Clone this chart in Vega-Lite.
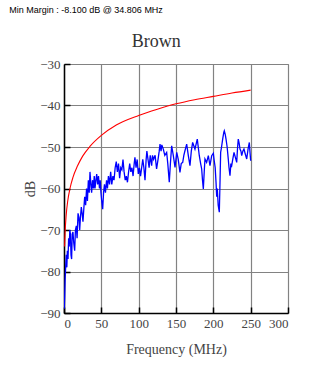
{
  "$schema": "https://vega.github.io/schema/vega-lite/v6.json",
  "background": "white",
  "padding": {"left": 9, "top": 5, "right": 5, "bottom": 5},
  "title": {"text": "Min Margin : -8.100 dB @ 34.806 MHz", "anchor": "start", "frame": "bounds", "font": "Liberation Sans", "fontSize": 9, "fontWeight": "normal", "color": "#000", "offset": 18, "dx": -14},
  "datasets": {
    "limit": [
      {"f": 0.8, "db": -74}, {"f": 1.5, "db": -70.5}, {"f": 3, "db": -66.3}, {"f": 5, "db": -63}, {"f": 8, "db": -60},
      {"f": 12, "db": -57.3}, {"f": 18, "db": -54.6}, {"f": 25, "db": -52.2}, {"f": 35, "db": -49.8}, {"f": 50, "db": -47.2},
      {"f": 70, "db": -44.7}, {"f": 100, "db": -42.4}, {"f": 125, "db": -40.9}, {"f": 150, "db": -39.6}, {"f": 175, "db": -38.6},
      {"f": 200, "db": -37.8}, {"f": 225, "db": -37}, {"f": 250, "db": -36.3}
    ],
    "meas": [
      {"f": 0.3, "db": -89}, {"f": 0.9, "db": -86}, {"f": 1.5, "db": -82}, {"f": 2.2, "db": -79}, {"f": 3.0, "db": -76},
      {"f": 3.8, "db": -79}, {"f": 4.5, "db": -75}, {"f": 5.4, "db": -77}, {"f": 6.2, "db": -72}, {"f": 7.0, "db": -74},
      {"f": 7.8, "db": -70}, {"f": 8.6, "db": -71}, {"f": 9.4, "db": -76}, {"f": 10.2, "db": -77}, {"f": 11.0, "db": -71},
      {"f": 12.0, "db": -70.5}, {"f": 13.0, "db": -73}, {"f": 14.3, "db": -75}, {"f": 15.3, "db": -70}, {"f": 16.5, "db": -69},
      {"f": 17.5, "db": -72}, {"f": 18.8, "db": -66}, {"f": 20.0, "db": -67}, {"f": 21.0, "db": -70}, {"f": 22.0, "db": -67},
      {"f": 23.2, "db": -64.5}, {"f": 24.3, "db": -66}, {"f": 25.4, "db": -68}, {"f": 26.5, "db": -65}, {"f": 27.7, "db": -62},
      {"f": 29.0, "db": -64}, {"f": 30.2, "db": -60}, {"f": 31.4, "db": -63}, {"f": 32.6, "db": -58}, {"f": 33.8, "db": -61},
      {"f": 34.8, "db": -56}, {"f": 36.0, "db": -59}, {"f": 37.0, "db": -61}, {"f": 38.2, "db": -58}, {"f": 39.5, "db": -60},
      {"f": 40.5, "db": -57}, {"f": 41.5, "db": -60}, {"f": 42.7, "db": -58}, {"f": 43.8, "db": -56.5}, {"f": 45.0, "db": -59},
      {"f": 46.2, "db": -57}, {"f": 47.5, "db": -60}, {"f": 48.5, "db": -58}, {"f": 49.5, "db": -61}, {"f": 50.5, "db": -63},
      {"f": 51.8, "db": -65}, {"f": 53.0, "db": -61}, {"f": 54.2, "db": -59}, {"f": 55.5, "db": -61}, {"f": 57.0, "db": -58},
      {"f": 58.2, "db": -60}, {"f": 59.5, "db": -57}, {"f": 61.0, "db": -59}, {"f": 62.5, "db": -56}, {"f": 64.0, "db": -59},
      {"f": 65.5, "db": -57}, {"f": 67.0, "db": -58}, {"f": 68.5, "db": -55}, {"f": 70.0, "db": -53.5}, {"f": 71.5, "db": -56},
      {"f": 73.0, "db": -54}, {"f": 74.5, "db": -57.5}, {"f": 76.0, "db": -55}, {"f": 77.5, "db": -55.5}, {"f": 79.0, "db": -53},
      {"f": 80.5, "db": -56}, {"f": 82.0, "db": -58}, {"f": 83.5, "db": -57}, {"f": 85.0, "db": -58.5}, {"f": 86.5, "db": -56},
      {"f": 88.0, "db": -54}, {"f": 89.5, "db": -56}, {"f": 91.0, "db": -55}, {"f": 92.5, "db": -57}, {"f": 94.0, "db": -54},
      {"f": 95.0, "db": -52.5}, {"f": 96.5, "db": -55}, {"f": 98.0, "db": -53}, {"f": 99.5, "db": -56.5}, {"f": 101, "db": -55},
      {"f": 102.5, "db": -57}, {"f": 104, "db": -55}, {"f": 105.5, "db": -53}, {"f": 107, "db": -55}, {"f": 108.5, "db": -58},
      {"f": 110, "db": -53}, {"f": 111, "db": -51}, {"f": 112.5, "db": -53}, {"f": 114, "db": -55}, {"f": 115.5, "db": -52},
      {"f": 117.4, "db": -54.5}, {"f": 118.5, "db": -52}, {"f": 120, "db": -53}, {"f": 122, "db": -52}, {"f": 124, "db": -55.3},
      {"f": 126, "db": -52.9}, {"f": 127.5, "db": -51}, {"f": 128.6, "db": -49.3}, {"f": 130, "db": -51}, {"f": 131, "db": -49.5},
      {"f": 133, "db": -50.5}, {"f": 135, "db": -52}, {"f": 137.5, "db": -51.3}, {"f": 139, "db": -54}, {"f": 141, "db": -58.5},
      {"f": 142.5, "db": -54}, {"f": 144.2, "db": -49.7}, {"f": 146.4, "db": -52.1}, {"f": 148.7, "db": -54.9}, {"f": 151, "db": -51.3},
      {"f": 153, "db": -53}, {"f": 155.3, "db": -56.1}, {"f": 157, "db": -54}, {"f": 159, "db": -53.7}, {"f": 160.5, "db": -52},
      {"f": 162, "db": -50.9}, {"f": 164.3, "db": -49.3}, {"f": 166.5, "db": -52.1}, {"f": 168.7, "db": -54.5}, {"f": 170.5, "db": -51},
      {"f": 172.3, "db": -48.9}, {"f": 175.4, "db": -50.5}, {"f": 178.5, "db": -48.1}, {"f": 181.2, "db": -52.1}, {"f": 183, "db": -54},
      {"f": 184.4, "db": -55.3}, {"f": 185.5, "db": -58}, {"f": 186.6, "db": -60.1}, {"f": 187.8, "db": -56}, {"f": 188.8, "db": -52.9},
      {"f": 191, "db": -53.7}, {"f": 193.3, "db": -52.1}, {"f": 195.5, "db": -54.5}, {"f": 197.8, "db": -52.1}, {"f": 200, "db": -51.5},
      {"f": 200.9, "db": -52.9}, {"f": 202.5, "db": -55}, {"f": 203.6, "db": -58.5}, {"f": 204.5, "db": -62}, {"f": 205.3, "db": -60},
      {"f": 206.5, "db": -64}, {"f": 208, "db": -65.7}, {"f": 209, "db": -58}, {"f": 209.8, "db": -51.3}, {"f": 211, "db": -50},
      {"f": 212.5, "db": -48.1}, {"f": 214, "db": -46.5}, {"f": 214.7, "db": -46.1}, {"f": 216, "db": -47}, {"f": 217, "db": -48.1},
      {"f": 218.5, "db": -50}, {"f": 220, "db": -52.9}, {"f": 221, "db": -55}, {"f": 222.3, "db": -56.9}, {"f": 223.5, "db": -54},
      {"f": 224.6, "db": -54.5}, {"f": 226, "db": -53}, {"f": 227.7, "db": -51.3}, {"f": 229.5, "db": -52.5}, {"f": 231.3, "db": -53.7},
      {"f": 232.5, "db": -50}, {"f": 233.4, "db": -48.1}, {"f": 234.5, "db": -49}, {"f": 235.7, "db": -50.5}, {"f": 237, "db": -51},
      {"f": 238, "db": -52.1}, {"f": 239.5, "db": -51}, {"f": 241, "db": -50.5}, {"f": 242.5, "db": -51.5}, {"f": 244.7, "db": -52.9},
      {"f": 246.5, "db": -50.5}, {"f": 248.2, "db": -48.9}, {"f": 249, "db": -51}, {"f": 250, "db": -53.3}
    ]
  },
  "vconcat": [
    {
      "width": 224,
      "height": 249,
      "title": {"text": "Brown", "frame": "bounds", "font": "Liberation Serif", "fontSize": 18, "fontWeight": "normal", "color": "#333", "offset": 7},
      "encoding": {
        "x": {"field": "f", "type": "quantitative", "scale": {"domain": [0, 300], "nice": false},
              "axis": {"values": [0, 50, 100, 150, 200, 250, 300], "title": "Frequency (MHz)"}},
        "y": {"field": "db", "type": "quantitative", "scale": {"domain": [-90, -30], "nice": false, "zero": false},
              "axis": {"values": [-90, -80, -70, -60, -50, -40, -30], "title": "dB"}}
      },
      "layer": [
        {"data": {"name": "meas"}, "mark": {"type": "line", "color": "#0000ff", "strokeWidth": 1.3, "clip": true}},
        {"data": {"name": "limit"}, "mark": {"type": "line", "color": "#ff0000", "strokeWidth": 1.1, "interpolate": "monotone", "clip": true}}
      ]
    }
  ],
  "config": {
    "view": {"stroke": "#888", "strokeWidth": 1},
    "axis": {
      "grid": true, "gridColor": "#828282", "gridWidth": 1.2, "gridOpacity": 1,
      "domainColor": "#000", "domainWidth": 1.5,
      "tickColor": "#000", "tickSize": -6, "tickWidth": 1.5,
      "labelFont": "Liberation Serif", "labelFontSize": 13, "labelColor": "#444",
      "titleFont": "Liberation Serif", "titleFontSize": 14, "titleFontWeight": "normal", "titleColor": "#444"
    },
    "axisX": {"labelPadding": 10, "titlePadding": 12},
    "axisY": {"labelPadding": 10, "titlePadding": 2}
  }
}
